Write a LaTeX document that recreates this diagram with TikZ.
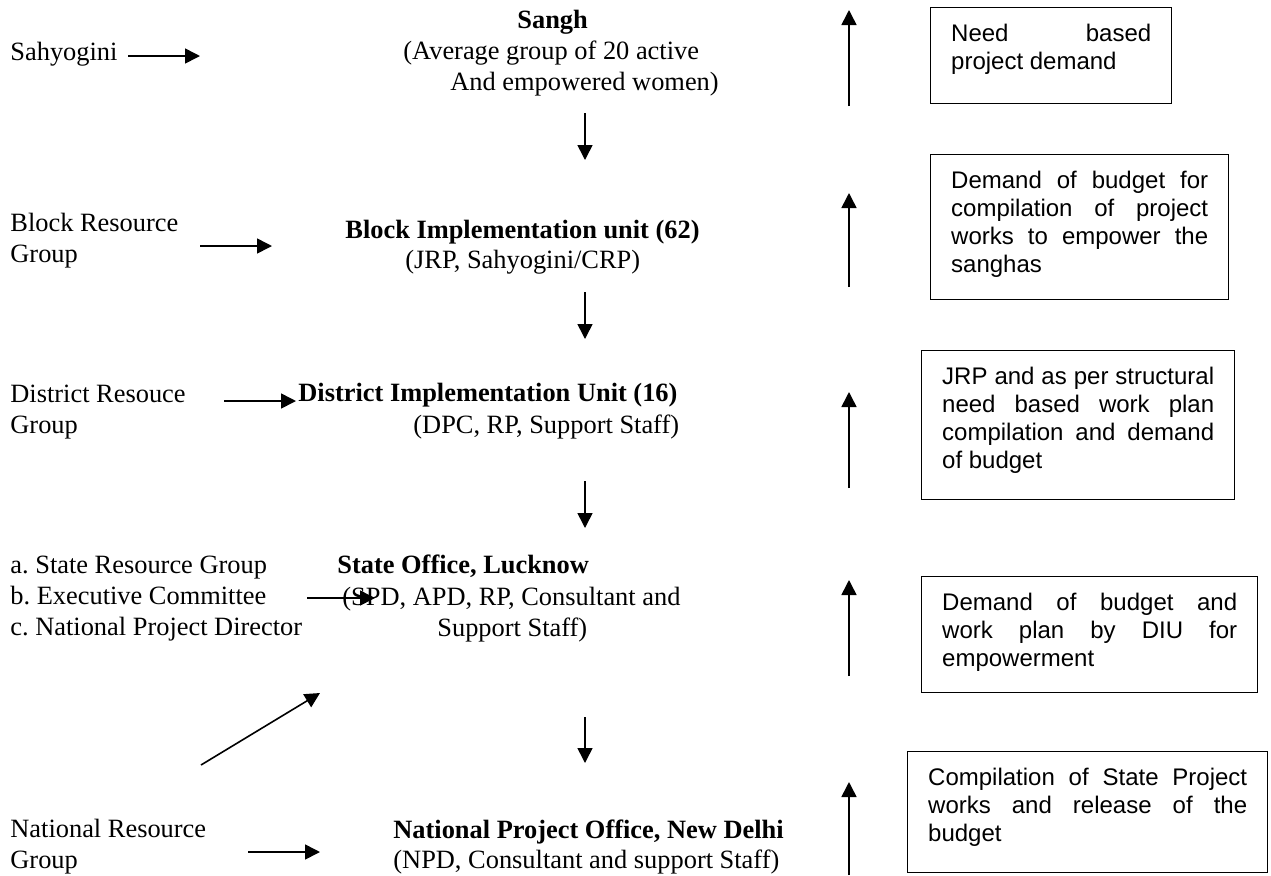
\documentclass[tikz,border=0pt]{standalone}
\usepackage{fontspec}
\setmainfont{Liberation Serif}
\newfontfamily\arialfont{Liberation Sans}
\usetikzlibrary{
  arrows.meta,
}
\hyphenpenalty=10000
\tolerance=10000
\hbadness=10000
\newcommand{\notebox}[3]{\parbox[c][#2][t]{#1}{#3}}
\tikzstyle{sidetext} = [
inner sep=0pt,
anchor=base west,
align=left,
font=\fontsize{13.2pt}{15.5pt}\selectfont
]
\tikzstyle{unittitle} = [
inner sep=0pt,
anchor=base west,
font=\fontsize{13.2pt}{15.5pt}\selectfont\bfseries
]
\tikzstyle{unitinfo} = [
inner sep=0pt,
anchor=base west,
align=left,
font=\fontsize{13.2pt}{15.5pt}\selectfont
]
\tikzstyle{demand} = [
draw,
line width=0.7pt,
anchor=north west,
inner xsep=10.25pt,
inner ysep=8.25pt,
font=\arialfont\fontsize{12pt}{13.9pt}\selectfont
]
\tikzstyle{arrow} = [draw, line width=0.8pt, -{Triangle[length=7.5pt,width=7.5pt]}]

\begin{document}
\begin{tikzpicture}[x=0.5pt, y=-0.5pt]
  \useasboundingbox (0,0) rectangle (1271,875);
  % Resource groups (base = last line)
  \node [sidetext] (sahyogini) at (10,60) {Sahyogini};
  \node [sidetext] (blockgroup) at (10,262) {Block Resource\\Group};
  \node [sidetext] (districtgroup) at (10,433) {District Resouce\\Group};
  \node [sidetext] (stategroup) at (10,635) {a.\ State Resource Group\\b.\ Executive Committee\\c.\ National Project Director};
  \node [sidetext] (nationalgroup) at (10,868) {National Resource\\Group};

  % Units
  \node [unittitle] (sangh) at (517,28) {Sangh};
  \node [unitinfo] (sanghinfo) at (403,90) {(Average group of 20 active\\\hspace*{23.5pt}And empowered women)};
  \node [unittitle] (block) at (345,238) {Block Implementation unit (62)};
  \node [unitinfo] (blockinfo) at (405,268) {(JRP, Sahyogini/CRP)};
  \node [unittitle] (district) at (298,401) {District Implementation Unit (16)};
  \node [unitinfo] (districtinfo) at (413,433) {(DPC, RP, Support Staff)};
  \node [unittitle] (state) at (337,573) {State Office, Lucknow};
  \node [unitinfo] (stateinfo) at (342,636) {(SPD, APD, RP, Consultant and\\\hspace*{47.5pt}Support Staff)};
  \node [unittitle] (national) at (393,838) {National Project Office, New Delhi};
  \node [unitinfo] (nationalinfo) at (393,868) {(NPD, Consultant and support Staff)};

  % Demands
  \node [demand] (need) at (930,7) {\notebox{100pt}{31.5pt}{Need based\linebreak project demand}};
  \node [demand] (compile) at (930,154) {\notebox{128.5pt}{56pt}{Demand of budget for\linebreak compilation of project\linebreak works to empower the\linebreak sanghas}};
  \node [demand] (workplan) at (921,350) {\notebox{136pt}{58pt}{JRP and as per structural\linebreak need based work plan\linebreak compilation and demand\linebreak of budget}};
  \node [demand] (diu) at (921,576) {\notebox{147.5pt}{41.5pt}{Demand of budget and\linebreak work plan by DIU for\linebreak empowerment}};
  \node [demand] (release) at (907,751) {\notebox{159.5pt}{44pt}{Compilation of State Project\linebreak works and release of the\linebreak budget}};

  % Arrow ends
  \coordinate (sahyoginiA) at (128,56);  \coordinate (sahyoginiB) at (200,56);
  \coordinate (blockA) at (200,246);     \coordinate (blockB) at (272,246);
  \coordinate (districtA) at (224,401);  \coordinate (districtB) at (296,401);
  \coordinate (stateA) at (307,598);     \coordinate (stateB) at (375,598);
  \coordinate (nationalA) at (248,852);  \coordinate (nationalB) at (320,852);
  \coordinate (diagA) at (201,765);      \coordinate (diagB) at (320,693);

  \coordinate (down1A) at (585,113);     \coordinate (down1B) at (585,160);
  \coordinate (down2A) at (585,292);     \coordinate (down2B) at (585,339);
  \coordinate (down3A) at (585,481);     \coordinate (down3B) at (585,528);
  \coordinate (down4A) at (585,717);     \coordinate (down4B) at (585,763);

  \coordinate (up1A) at (849,106);       \coordinate (up1B) at (849,10);
  \coordinate (up2A) at (849,287);       \coordinate (up2B) at (849,193);
  \coordinate (up3A) at (849,488);       \coordinate (up3B) at (849,392);
  \coordinate (up4A) at (849,676);       \coordinate (up4B) at (849,580);
  \coordinate (up5A) at (849,875);       \coordinate (up5B) at (849,782);

  % Draw edges
  \path [arrow] (sahyoginiA) -- (sahyoginiB);
  \path [arrow] (blockA) -- (blockB);
  \path [arrow] (districtA) -- (districtB);
  \path [arrow] (stateA) -- (stateB);
  \path [arrow] (nationalA) -- (nationalB);
  \path [arrow] (diagA) -- (diagB);

  \path [arrow] (down1A) -- (down1B);
  \path [arrow] (down2A) -- (down2B);
  \path [arrow] (down3A) -- (down3B);
  \path [arrow] (down4A) -- (down4B);

  \path [arrow] (up1A) -- (up1B);
  \path [arrow] (up2A) -- (up2B);
  \path [arrow] (up3A) -- (up3B);
  \path [arrow] (up4A) -- (up4B);
  \path [arrow] (up5A) -- (up5B);
\end{tikzpicture}
\end{document}
